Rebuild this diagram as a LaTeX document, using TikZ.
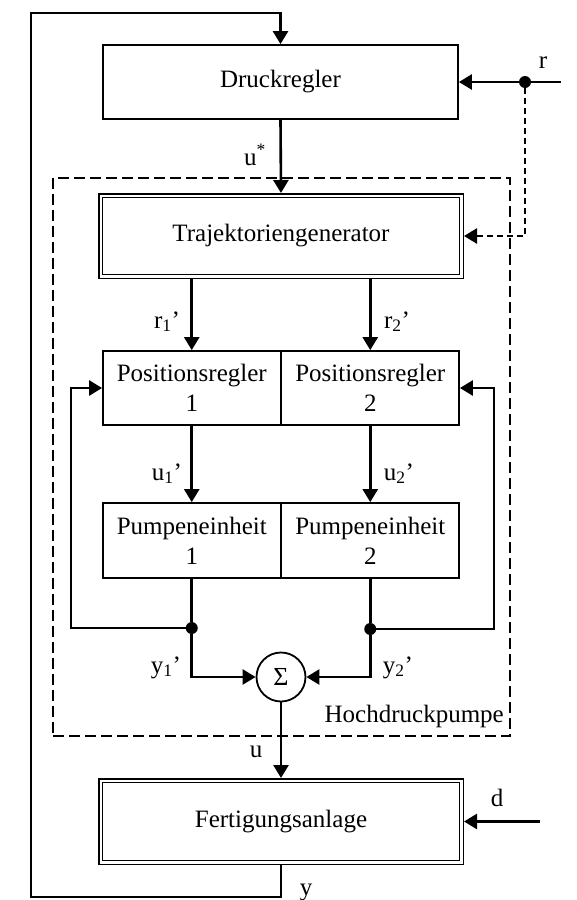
\documentclass[tikz,border=0pt]{standalone}
\usepackage{fontspec}
\setmainfont{Liberation Serif}
\usetikzlibrary{arrows.meta}
\begin{document}
\begin{tikzpicture}[x=1pt,y=-1pt,
  every node/.style={font=\fontsize{25}{30}\selectfont},
  blk/.style={draw, line width=1.8pt, inner sep=0pt, align=center},
  dblk/.style={draw, line width=1.5pt, double, double distance=2.4pt, inner sep=0pt, outer sep=2.7pt},
  conn/.style={line width=2.6pt, -{Triangle[length=13pt,width=15pt]}},
  wire/.style={line width=2.6pt},
  lbl/.style={anchor=base, inner sep=0pt},
  junction/.style={circle, fill, inner sep=0pt, minimum size=12pt},
  dashconn/.style={conn, dash pattern=on 6pt off 4pt},
  groupbox/.style={draw, line width=1.8pt, dash pattern=on 11pt off 5pt, inner sep=0pt},
]
\useasboundingbox (0,0) rectangle (576,900);

% group box
\node[groupbox, minimum width=457pt, minimum height=558pt] (HP) at (281.5,457) {};
\node[lbl, anchor=base east] (HPl) at (504,722) {Hochdruckpumpe};

% blocks
\node[blk, minimum width=355pt, minimum height=74pt] (DR) at (280.5,82) {Druckregler};
\node[dblk, minimum width=360.6pt, minimum height=80.6pt] (TG) at (281,236) {Trajektoriengenerator};
\node[blk, minimum width=177.5pt, minimum height=74pt] (PR1) at (191.75,388) {Positionsregler\\1};
\node[blk, minimum width=177.5pt, minimum height=74pt] (PR2) at (370.25,388) {Positionsregler\\2};
\node[blk, minimum width=177.5pt, minimum height=75pt] (PE1) at (191.75,540.5) {Pumpeneinheit\\1};
\node[blk, minimum width=177.5pt, minimum height=75pt] (PE2) at (370.25,540.5) {Pumpeneinheit\\2};
\node[draw, circle, line width=1.8pt, minimum size=49pt, inner sep=0pt, font=\fontsize{26}{30}\selectfont] (S) at (281,677) {Σ};
\node[dblk, minimum width=360.6pt, minimum height=81.6pt] (FA) at (281,821.5) {Fertigungsanlage};

% junctions and free ends
\node[junction] (J0) at (525,82) {};
\node[junction] (J1) at (191.75,628) {};
\node[junction] (J2) at (370.25,629) {};
\coordinate (rin) at (561,82);
\coordinate (din) at (540,821.5);
\coordinate (BL) at (31,897);
\coordinate (TL) at (31,13);
\coordinate (F1) at (71,628);
\coordinate (F2) at (494,629);

% connectors
\draw[conn] (FA.south) |- (BL) |- (TL) -| (DR.north);
\draw[conn] (rin) -- (DR.east);
\draw[dashconn] (J0) |- (TG.east);
\draw[conn] (DR.south) -- (TG.north);
\draw[conn] (TG.south -| PR1.north) -- (PR1.north);
\draw[conn] (TG.south -| PR2.north) -- (PR2.north);
\draw[conn] (PR1.south) -- (PE1.north);
\draw[conn] (PR2.south) -- (PE2.north);
\draw[wire] (PE1.south) -- (J1);
\draw[wire] (PE2.south) -- (J2);
\draw[conn] (J1) |- (S.west);
\draw[conn] (J2) |- (S.east);
\draw[conn] (J1) -- (F1) |- (PR1.west);
\draw[conn] (J2) -- (F2) |- (PR2.east);
\draw[conn] (S.south) -- (FA.north);
\draw[conn] (din) -- (FA.east);

% labels
\node[lbl] (lus) at (255,165) {u\textsuperscript{*}};
\node[lbl] (lr) at (543,68) {r};
\node[lbl] (lr1) at (167,328) {r\textsubscript{1}’};
\node[lbl] (lr2) at (397,328) {r\textsubscript{2}’};
\node[lbl] (lu1) at (167,480) {u\textsubscript{1}’};
\node[lbl] (lu2) at (399,480) {u\textsubscript{2}’};
\node[lbl] (ly1) at (166,673) {y\textsubscript{1}’};
\node[lbl] (ly2) at (398,673) {y\textsubscript{2}’};
\node[lbl] (lu) at (256,757) {u};
\node[lbl] (ld) at (497,806) {d};
\node[lbl] (ly) at (306,895) {y};
\end{tikzpicture}
\end{document}
